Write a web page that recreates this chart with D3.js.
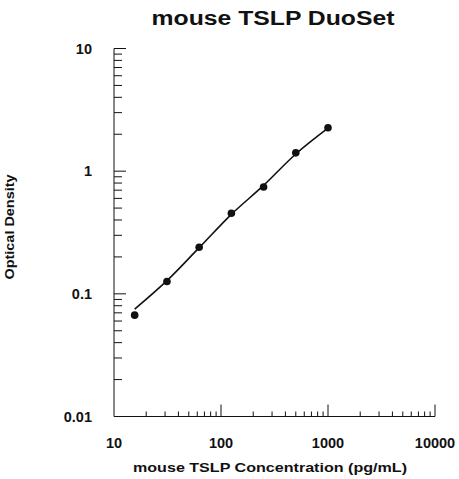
<!DOCTYPE html>
<html>
<head>
<meta charset="utf-8">
<script src="https://d3js.org/d3.v7.min.js"></script>
<style>
body { margin: 0; background: #fff; }
text { font-family: "Liberation Sans", Arial, sans-serif; font-weight: bold; fill: #111; }
</style>
</head>
<body>
<div id="chart"></div>
<script>
// standard concentrations (pg/mL) and measured OD
var conc = [15.6, 31.25, 62.5, 125, 250, 500, 1000];
var od = [0.067, 0.126, 0.240, 0.454, 0.743, 1.41, 2.26];
// fitted curve at the same concentrations
var fitOd = [0.075, 0.128, 0.238, 0.445, 0.765, 1.38, 2.24];

var xTicks = [10, 100, 1000, 10000];
var yTicks = [0.01, 0.1, 1, 10];
var yTickLabels = ["0.01", "0.1", "1", "10"];

var W = 459, H = 479;

var svg = d3.select("#chart").append("svg")
    .attr("width", W)
    .attr("height", H);

var x = d3.scaleLog().domain([10, 10000]).range([114, 435]);
var y = d3.scaleLog().domain([0.01, 10]).range([416.5, 48.5]);

// minor ticks 2..9 in every decade
function minorTicks(lo, hi){
    var out = [];
    for(var d = lo; d < hi; d *= 10){
        for(var m = 2; m <= 9; m++) out.push(d*m);
    }
    return out;
}

var axisG = svg.append("g").attr("stroke", "#111").attr("stroke-width", 1);

// axis lines
axisG.append("line")
    .attr("x1", x(10)).attr("x2", x(10))
    .attr("y1", y(10)).attr("y2", y(0.01));
axisG.append("line")
    .attr("x1", x(10)).attr("x2", x(10000))
    .attr("y1", y(0.01)).attr("y2", y(0.01));

// y ticks, pointing into the plot
axisG.selectAll(".ymaj").data(yTicks.slice(1)).enter().append("line")
    .attr("x1", x(10)).attr("x2", x(10) + 12)
    .attr("y1", function(d){ return y(d); })
    .attr("y2", function(d){ return y(d); });
axisG.selectAll(".ymin").data(minorTicks(0.01, 10)).enter().append("line")
    .attr("x1", x(10)).attr("x2", x(10) + 8)
    .attr("y1", function(d){ return y(d); })
    .attr("y2", function(d){ return y(d); });

// x ticks
axisG.selectAll(".xmaj").data(xTicks.slice(1)).enter().append("line")
    .attr("x1", function(d){ return x(d); })
    .attr("x2", function(d){ return x(d); })
    .attr("y1", y(0.01)).attr("y2", y(0.01) - 12);
axisG.selectAll(".xmin").data(minorTicks(10, 10000)).enter().append("line")
    .attr("x1", function(d){ return x(d); })
    .attr("x2", function(d){ return x(d); })
    .attr("y1", y(0.01)).attr("y2", y(0.01) - 5);

// tick labels
svg.selectAll(".xl").data(xTicks).enter().append("text")
    .attr("x", function(d){ return x(d); })
    .attr("y", 448)
    .attr("text-anchor", "middle")
    .style("font-size", "14.5px")
    .text(function(d){ return d; });

svg.selectAll(".yl").data(yTicks).enter().append("text")
    .attr("x", 92)
    .attr("y", function(d){ return y(d) + 5; })
    .attr("text-anchor", "end")
    .style("font-size", "14.5px")
    .text(function(d, i){ return yTickLabels[i]; });

// fitted curve
var line = d3.line()
    .x(function(d, i){ return x(conc[i]); })
    .y(function(d){ return y(d); })
    .curve(d3.curveMonotoneX);

svg.append("path")
    .datum(fitOd)
    .attr("d", line)
    .attr("fill", "none")
    .attr("stroke", "#111")
    .attr("stroke-width", 1.6);

// points
svg.selectAll(".pt").data(od).enter().append("circle")
    .attr("cx", function(d, i){ return x(conc[i]); })
    .attr("cy", function(d){ return y(d); })
    .attr("r", 3.8)
    .attr("fill", "#111");

// titles
svg.append("text")
    .attr("x", 273).attr("y", 25)
    .attr("text-anchor", "middle")
    .attr("textLength", 243)
    .attr("lengthAdjust", "spacingAndGlyphs")
    .style("font-size", "20px")
    .text("mouse TSLP DuoSet");

svg.append("text")
    .attr("x", 270).attr("y", 472)
    .attr("text-anchor", "middle")
    .attr("textLength", 274)
    .attr("lengthAdjust", "spacingAndGlyphs")
    .style("font-size", "13px")
    .text("mouse TSLP Concentration (pg/mL)");

svg.append("text")
    .attr("transform", "translate(14,227) rotate(-90)")
    .attr("text-anchor", "middle")
    .attr("textLength", 105)
    .attr("lengthAdjust", "spacingAndGlyphs")
    .style("font-size", "13px")
    .text("Optical Density");
</script>
</body>
</html>
